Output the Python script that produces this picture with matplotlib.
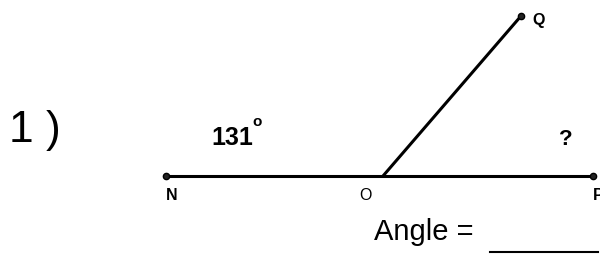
import matplotlib
matplotlib.use("Agg")
import matplotlib.pyplot as plt

# Data
point_names = ["N", "O", "P", "Q"]
point_x = [166, 383, 593, 521]
point_y = [176, 176, 176, 16]
label_x = [172, 365, 598, 539]
label_y = [196, 196, 196, 21]
label_bold = [True, False, True, True]
segments = [("N", "P"), ("O", "Q")]
dot_points = ["N", "P", "Q"]
known_angle = 131
problem_number = 1

plt.rcParams['font.family'] = ['Liberation Sans', 'DejaVu Sans']

fig = plt.figure(figsize=(6.0, 2.56), dpi=100)
ax = fig.add_axes([0, 0, 1, 1])
ax.set_xlim(0, 600)
ax.set_ylim(256, 0)
ax.axis('off')

pos = {n: (x, y) for n, x, y in zip(point_names, point_x, point_y)}
for a, b in segments:
    ax.plot([pos[a][0], pos[b][0]], [pos[a][1], pos[b][1]], color='black',
            lw=2.2, solid_capstyle='butt', zorder=2)
for n in dot_points:
    ax.plot(pos[n][0], pos[n][1], 'o', ms=4.5, color='#222222', mec='black', mew=1, zorder=3)

for n, lx, ly, b in zip(point_names, label_x, label_y, label_bold):
    ax.text(lx, ly, n, fontsize=11.5, fontweight='bold' if b else 'normal',
            ha='center', va='center', color='black')

ax.text(9, 142, f"{problem_number} )", fontsize=32, ha='left', va='baseline', color='black')
ax.text(211, 145, f"{known_angle}", fontsize=18, fontweight='bold', ha='left', va='baseline')
ax.text(252, 126, "o", fontsize=11, fontweight='bold', ha='left', va='baseline')
ax.text(566, 145, "?", fontsize=16, fontweight='bold', ha='center', va='baseline')
ax.text(374, 240, "Angle = ", fontsize=21, ha='left', va='baseline')
ax.plot([490, 598], [252, 252], color='black', lw=1.5)

fig.savefig("out.png", dpi=100)
